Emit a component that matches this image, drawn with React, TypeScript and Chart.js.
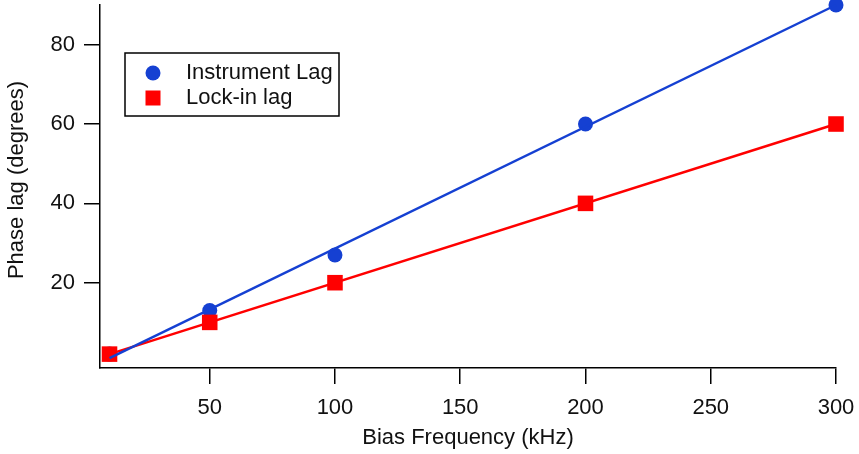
import React, { useEffect, useRef } from 'react';
import { Chart, registerables } from 'chart.js';

Chart.register(...registerables);

const frequencies = [10, 50, 100, 200, 300];
const instrumentLag = [2, 13, 27, 60, 90];
const lockInLag = [2, 10, 20, 40, 60];
const instrumentFitX = [10, 300];
const instrumentFitY = [1, 90];
const lockInFitX = [10, 300];
const lockInFitY = [2, 60];
const xTicks = [50, 100, 150, 200, 250, 300];
const yTicks = [20, 40, 60, 80];
const seriesNames = ['Instrument Lag', 'Lock-in lag'];
const xTitle = 'Bias Frequency (kHz)';
const yTitle = 'Phase lag (degrees)';

const BLUE = '#1540d2';
const RED = '#ff0000';
const TEXT = '#111111';
const FONT = '"Liberation Sans", Arial, sans-serif';
const FS = 22;

const toPts = (xs: number[], ys: number[]) => xs.map((x, i) => ({ x, y: ys[i] }));

const overlayPlugin = {
  id: 'overlay',
  afterDraw(chart: any) {
    const { ctx, chartArea } = chart;
    ctx.save();
    // y-axis title
    ctx.font = `${FS}px ${FONT}`;
    ctx.fillStyle = TEXT;
    ctx.textAlign = 'center';
    ctx.textBaseline = 'middle';
    ctx.translate(17, 180);
    ctx.rotate(-Math.PI / 2);
    ctx.fillText(yTitle, 0, 0);
    ctx.restore();

    // legend
    ctx.save();
    const lx = chartArea.left + 25;
    const ly = chartArea.top + 48;
    const lw = 214;
    const lh = 63;
    ctx.fillStyle = '#ffffff';
    ctx.fillRect(lx, ly, lw, lh);
    ctx.strokeStyle = '#000';
    ctx.lineWidth = 1.5;
    ctx.strokeRect(lx, ly, lw, lh);
    const mx = lx + 28;
    const y1 = ly + 20;
    const y2 = ly + 45;
    ctx.fillStyle = BLUE;
    ctx.beginPath();
    ctx.arc(mx, y1, 7.5, 0, Math.PI * 2);
    ctx.fill();
    ctx.fillStyle = RED;
    ctx.fillRect(mx - 7.5, y2 - 7.5, 15, 15);
    ctx.fillStyle = TEXT;
    ctx.font = `${FS}px ${FONT}`;
    ctx.textAlign = 'left';
    ctx.textBaseline = 'middle';
    ctx.fillText(seriesNames[0], lx + 61, y1);
    ctx.fillText(seriesNames[1], lx + 61, y2);
    ctx.restore();
  },
};

export default function App() {
  const ref = useRef<HTMLCanvasElement | null>(null);

  useEffect(() => {
    if (!ref.current) return;
    const chart = new Chart(ref.current, {
      type: 'scatter',
      data: {
        datasets: [
          {
            label: seriesNames[0] + ' fit',
            data: toPts(instrumentFitX, instrumentFitY),
            showLine: true,
            borderColor: BLUE,
            borderWidth: 2.5,
            pointRadius: 0,
            order: 0,
          } as any,
          {
            label: seriesNames[1] + ' fit',
            data: toPts(lockInFitX, lockInFitY),
            showLine: true,
            borderColor: RED,
            borderWidth: 2.5,
            pointRadius: 0,
            order: 1,
          },
          {
            label: seriesNames[1],
            data: toPts(frequencies, lockInLag),
            pointStyle: 'rect',
            pointRadius: 11,
            backgroundColor: RED,
            borderColor: RED,
            borderWidth: 0,
            order: 2,
          },
          {
            label: seriesNames[0],
            data: toPts(frequencies, instrumentLag),
            pointStyle: 'circle',
            pointRadius: 7.5,
            backgroundColor: BLUE,
            borderColor: BLUE,
            borderWidth: 0,
            order: 3,
          },
        ],
      },
      options: {
        responsive: false,
        animation: false,
        clip: false as any,
        layout: { autoPadding: false, padding: { top: 5, right: 23, left: 0, bottom: 0 } },
        plugins: {
          legend: { display: false },
          tooltip: { enabled: false },
        },
        scales: {
          x: {
            type: 'linear',
            min: 6.2,
            max: 300,
            afterFit: (s: any) => {
              s.height = 86;
              s.paddingLeft = 0;
              s.paddingRight = 0;
            },
            afterBuildTicks: (s: any) => {
              s.ticks = xTicks.map((v) => ({ value: v }));
            },
            grid: {
              drawOnChartArea: false,
              drawTicks: true,
              tickLength: 16,
              color: '#000',
              lineWidth: 1.5,
            },
            border: { display: true, color: '#000', width: 1.5 },
            ticks: {
              color: TEXT,
              font: { family: FONT, size: FS },
              padding: 11,
              maxRotation: 0,
              autoSkip: false,
            },
            title: {
              display: true,
              text: xTitle,
              color: TEXT,
              font: { family: FONT, size: FS },
              padding: { top: 0, bottom: 3 },
            },
          },
          y: {
            type: 'linear',
            min: -1.5,
            max: 90,
            afterFit: (s: any) => {
              s.width = 100;
              s.paddingTop = 0;
              s.paddingBottom = 0;
            },
            afterBuildTicks: (s: any) => {
              s.ticks = yTicks.map((v) => ({ value: v }));
            },
            grid: {
              drawOnChartArea: false,
              drawTicks: true,
              tickLength: 16,
              color: '#000',
              lineWidth: 1.5,
            },
            border: { display: true, color: '#000', width: 1.5 },
            ticks: {
              color: TEXT,
              font: { family: FONT, size: FS },
              padding: 9,
              autoSkip: false,
            },
          },
        },
      },
      plugins: [overlayPlugin],
    });
    return () => chart.destroy();
  }, []);

  return (
    <div style={{ position: 'fixed', left: 0, top: 0, width: 859, height: 454, background: '#fff' }}>
      <canvas ref={ref} width={859} height={454} style={{ display: 'block' }} />
    </div>
  );
}
